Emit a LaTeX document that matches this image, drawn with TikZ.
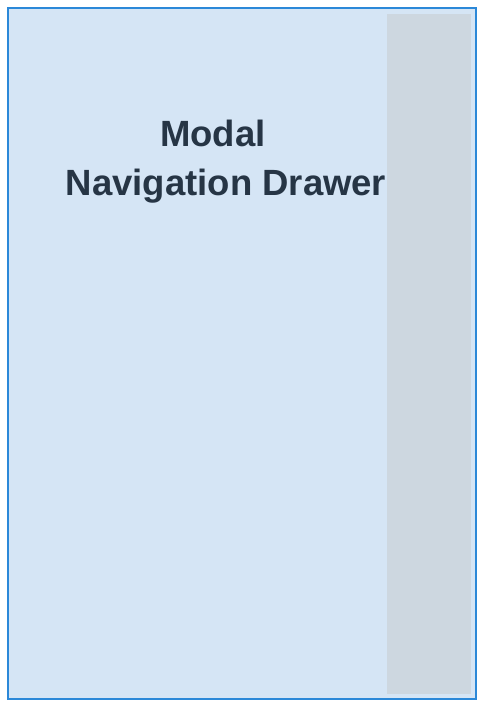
\documentclass[tikz,border=0pt]{standalone}
\usepackage{fontspec}
\setmainfont{Liberation Sans}
\usepackage{tikz}
\usetikzlibrary{positioning}

\definecolor{panelfill}{HTML}{D5E5F5}
\definecolor{panelline}{HTML}{2B88D8}
\definecolor{scrimgray}{HTML}{CDD7E0}
\definecolor{titleink}{HTML}{263545}

\begin{document}
\begin{tikzpicture}[x=1pt,y=-1pt,
    titletext/.style={anchor=base, inner sep=0pt, text=titleink, font=\fontsize{36.5}{49}\selectfont\bfseries}]

\useasboundingbox (0,0) rectangle (484,707);

% Frame
\draw[line width=2pt, draw=panelline, fill=panelfill] (8,8) rectangle (476,698.5);

% Title
\node[titletext] (modal) at (213,146.5) {Modal};
\node[titletext] (drawer) at (226,195.5) {Navigation Drawer};

% Drawer strip, drawn over the title
\fill[scrimgray] (387,14) rectangle (471,693.5);
\end{tikzpicture}
\end{document}
